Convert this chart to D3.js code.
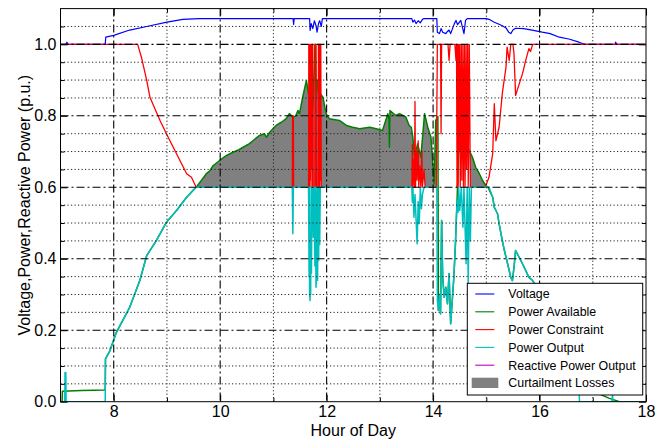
<!DOCTYPE html>
<html lang="en">
<head>
<meta charset="UTF-8">
<title>Voltage, Power and Curtailment by Hour of Day</title>
<script src="https://cdn.jsdelivr.net/npm/d3@7"></script>
<style>
  html, body { margin: 0; padding: 0; background: #fff; }
  svg { display: block; font-family: "Liberation Sans", Arial, sans-serif; }
</style>
</head>
<body>
<script>
// ----------------------------
// Data: [hour, p.u.]
// ----------------------------
const voltage = [[7.00,1.000],[7.10,1.000],[7.12,1.006],[7.14,1.000],[7.84,1.000],[7.85,1.020],[8.00,1.025],[8.30,1.040],[8.62,1.050],[9.00,1.062],[9.30,1.070],[9.60,1.072],[11.37,1.072],[11.38,1.056],[11.39,1.072],[11.68,1.072],[11.69,1.039],[11.71,1.058],[11.74,1.044],[11.77,1.066],[11.80,1.052],[11.82,1.034],[11.85,1.060],[11.87,1.066],[11.90,1.050],[11.92,1.072],[13.60,1.072],[13.62,1.062],[13.65,1.068],[13.68,1.058],[13.72,1.066],[13.76,1.060],[13.80,1.070],[13.83,1.072],[14.07,1.072],[14.08,1.034],[14.12,1.030],[14.15,1.044],[14.18,1.034],[14.24,1.030],[14.27,1.036],[14.30,1.040],[14.33,1.030],[14.40,1.058],[14.43,1.067],[14.46,1.055],[14.52,1.067],[14.58,1.030],[14.61,1.067],[14.64,1.072],[15.00,1.072],[15.05,1.070],[15.15,1.062],[15.24,1.056],[15.30,1.052],[15.37,1.046],[15.42,1.034],[15.46,1.030],[15.50,1.040],[15.55,1.045],[15.70,1.044],[15.86,1.040],[16.05,1.034],[16.20,1.030],[16.37,1.020],[16.55,1.015],[16.74,1.006],[16.85,1.000],[17.42,1.000],[17.43,1.006],[17.45,1.000],[18.00,1.000]];

const powerAvailable = [[7.00,0.000],[7.03,0.000],[7.035,0.029],[7.40,0.031],[7.84,0.033],[7.845,0.120],[7.93,0.143],[8.05,0.194],[8.30,0.264],[8.49,0.339],[8.62,0.409],[8.80,0.451],[8.99,0.502],[9.18,0.535],[9.37,0.572],[9.52,0.596],[9.55,0.600],[9.65,0.620],[9.74,0.638],[9.80,0.645],[9.87,0.661],[9.99,0.675],[10.12,0.689],[10.24,0.698],[10.35,0.705],[10.43,0.712],[10.55,0.722],[10.62,0.731],[10.74,0.745],[10.83,0.750],[10.87,0.740],[10.93,0.754],[11.05,0.773],[11.15,0.782],[11.24,0.792],[11.30,0.806],[11.37,0.796],[11.42,0.800],[11.46,0.815],[11.49,0.806],[11.55,0.852],[11.62,0.899],[11.65,0.870],[11.68,0.843],[11.71,0.880],[11.74,0.820],[11.77,0.950],[11.78,1.000],[11.79,1.000],[11.80,0.860],[11.83,0.900],[11.86,0.820],[11.89,0.860],[11.93,0.852],[11.99,0.806],[12.05,0.792],[12.24,0.787],[12.37,0.773],[12.49,0.768],[12.62,0.764],[12.81,0.768],[12.93,0.764],[13.05,0.759],[13.15,0.806],[13.17,0.790],[13.18,0.712],[13.19,0.815],[13.30,0.801],[13.37,0.806],[13.49,0.796],[13.55,0.773],[13.59,0.768],[13.62,0.740],[13.65,0.684],[13.71,0.722],[13.77,0.684],[13.84,0.806],[13.90,0.768],[13.96,0.740],[13.99,0.675],[14.02,0.610],[14.05,0.787],[14.09,0.798],[14.10,0.255],[14.12,0.300],[14.14,0.246],[14.16,0.507],[14.18,0.348],[14.21,0.292],[14.24,0.320],[14.27,0.274],[14.30,0.358],[14.33,0.218],[14.36,0.283],[14.39,0.348],[14.42,0.442],[14.45,0.563],[14.48,0.700],[14.52,0.768],[14.55,0.740],[14.62,0.722],[14.68,0.703],[14.74,0.684],[14.80,0.656],[14.87,0.638],[14.93,0.619],[14.99,0.605],[15.03,0.600],[15.12,0.572],[15.15,0.544],[15.18,0.535],[15.21,0.526],[15.24,0.498],[15.30,0.451],[15.34,0.423],[15.40,0.386],[15.46,0.348],[15.49,0.339],[15.52,0.376],[15.55,0.423],[15.68,0.386],[15.80,0.348],[15.87,0.339],[16.00,0.310],[16.20,0.240],[16.40,0.170],[16.60,0.100],[16.74,0.060],[17.00,0.030],[17.30,0.010],[17.50,0.000],[18.00,0.000]];

const powerConstraint = [[7.00,1.000],[8.45,1.000],[8.52,0.964],[8.62,0.899],[8.68,0.852],[8.87,0.787],[8.99,0.750],[9.18,0.694],[9.37,0.638],[9.46,0.628],[9.55,0.600],[11.355,0.600],[11.36,0.800],[11.375,0.800],[11.38,0.600],[11.66,0.600],[11.665,1.000],[11.675,0.600],[11.68,1.000],[11.69,0.620],[11.695,1.000],[11.705,0.600],[11.71,1.000],[11.72,0.650],[11.725,1.000],[11.735,0.600],[11.74,1.000],[11.745,0.600],[11.78,0.600],[11.785,1.000],[11.795,0.600],[11.80,1.000],[11.81,0.600],[11.84,0.600],[11.845,1.000],[11.855,0.600],[11.86,1.000],[11.87,0.600],[11.875,1.000],[11.885,0.620],[11.89,1.000],[11.90,0.600],[13.60,0.600],[13.61,0.720],[13.62,0.600],[13.64,0.680],[13.65,0.600],[13.66,0.840],[13.67,0.600],[13.69,0.700],[13.70,0.620],[13.72,0.730],[13.73,0.600],[13.75,0.660],[13.77,0.600],[13.79,0.700],[13.80,0.600],[13.83,0.650],[13.85,0.600],[14.06,0.600],[14.08,1.000],[14.14,1.000],[14.15,0.750],[14.16,1.000],[14.28,1.000],[14.30,0.955],[14.32,1.000],[14.41,1.000],[14.43,0.955],[14.44,1.000],[14.45,0.600],[14.46,1.000],[14.47,0.600],[14.48,1.000],[14.49,0.700],[14.50,1.000],[14.51,0.600],[14.53,1.000],[14.54,0.620],[14.56,1.000],[14.57,0.600],[14.59,1.000],[14.60,0.600],[14.62,1.000],[14.63,0.650],[14.65,1.000],[14.66,0.600],[14.68,1.000],[14.70,0.600],[14.98,0.600],[15.05,0.628],[15.12,0.694],[15.15,0.834],[15.18,0.730],[15.24,0.768],[15.30,0.862],[15.37,0.936],[15.39,0.992],[15.43,0.955],[15.46,1.000],[15.50,1.000],[15.52,0.974],[15.55,0.857],[15.62,0.890],[15.68,0.918],[15.74,0.955],[15.80,0.988],[15.83,0.980],[15.87,1.000],[18.00,1.000]];

const powerOutput = [[7.00,0.000],[7.08,0.000],[7.085,0.082],[7.10,0.082],[7.105,0.000],[7.84,0.000],[7.845,0.120],[7.93,0.143],[8.05,0.194],[8.30,0.264],[8.49,0.339],[8.62,0.409],[8.80,0.451],[8.99,0.502],[9.18,0.535],[9.37,0.572],[9.52,0.596],[9.55,0.600],[11.355,0.600],[11.365,0.470],[11.375,0.600],[11.66,0.600],[11.67,0.350],[11.675,0.600],[11.68,0.300],[11.69,0.283],[11.695,0.450],[11.70,0.300],[11.71,0.600],[11.715,0.360],[11.725,0.600],[11.74,0.600],[11.75,0.460],[11.76,0.600],[11.78,0.380],[11.79,0.600],[11.80,0.320],[11.81,0.350],[11.82,0.600],[11.83,0.340],[11.84,0.600],[11.85,0.395],[11.86,0.600],[11.87,0.440],[11.88,0.600],[13.60,0.600],[13.61,0.558],[13.62,0.600],[13.64,0.516],[13.66,0.580],[13.70,0.442],[13.72,0.560],[13.74,0.498],[13.76,0.600],[13.78,0.540],[13.80,0.580],[13.83,0.600],[14.07,0.600],[14.08,0.283],[14.10,0.255],[14.12,0.300],[14.14,0.246],[14.16,0.507],[14.18,0.348],[14.21,0.292],[14.24,0.320],[14.27,0.274],[14.30,0.358],[14.33,0.218],[14.36,0.283],[14.39,0.348],[14.42,0.442],[14.45,0.563],[14.47,0.530],[14.48,0.600],[14.50,0.535],[14.53,0.600],[14.56,0.488],[14.58,0.600],[14.62,0.386],[14.64,0.600],[14.66,0.330],[14.68,0.600],[14.70,0.450],[14.72,0.600],[15.05,0.600],[15.12,0.572],[15.15,0.544],[15.18,0.535],[15.21,0.526],[15.24,0.498],[15.30,0.451],[15.34,0.423],[15.40,0.386],[15.46,0.348],[15.49,0.339],[15.52,0.376],[15.55,0.423],[15.68,0.386],[15.80,0.348],[15.87,0.339],[16.00,0.310],[16.20,0.240],[16.40,0.170],[16.60,0.100],[16.74,0.060],[16.75,0.000],[17.36,0.000],[17.37,0.020],[17.38,0.000],[18.00,0.000]];

const reactivePower = [[7.00,1.000],[8.45,1.000],[8.46,null],[15.86,null],[15.87,1.000],[18.00,1.000]];

const xTicks = [8, 10, 12, 14, 16, 18];
const xMinor = [9, 11, 13, 15, 17];
const yTicks = [0.0, 0.2, 0.4, 0.6, 0.8, 1.0];
const yMinor = [0.05, 0.1, 0.15, 0.25, 0.3, 0.35, 0.45, 0.5, 0.55, 0.65, 0.7, 0.75, 0.85, 0.9, 0.95, 1.05];

const seriesNames = ["Voltage", "Power Available", "Power Constraint", "Power Output", "Reactive Power Output", "Curtailment Losses"];
const seriesColors = ["#0000ff", "#008000", "#ff0000", "#00bfbf", "#bf00bf", "#808080"];

// ----------------------------
// Layout
// ----------------------------
const width = 670, height = 440;
const margin = { top: 8.6, right: 24, bottom: 38.3, left: 60.5 };
const innerW = width - margin.left - margin.right;
const innerH = height - margin.top - margin.bottom;

const x = d3.scaleLinear().domain([7, 18]).range([0, innerW]);
const y = d3.scaleLinear().domain([0, 1.1]).range([innerH, 0]);

const svg = d3.select("body").append("svg")
  .attr("width", width)
  .attr("height", height);

svg.append("defs").append("clipPath").attr("id", "plot-clip")
  .append("rect").attr("width", innerW).attr("height", innerH);

const g = svg.append("g").attr("transform", `translate(${margin.left},${margin.top})`);
const plot = g.append("g").attr("clip-path", "url(#plot-clip)");

// ----------------------------
// Curtailment losses: available above the constraint
// ----------------------------
function valueAt(series, h) {
  const i = d3.bisector(d => d[0]).left(series, h);
  if (i <= 0) return series[0][1];
  if (i >= series.length) return series[series.length - 1][1];
  const a = series[i - 1], b = series[i];
  if (b[0] === a[0]) return b[1];
  return a[1] + (b[1] - a[1]) * (h - a[0]) / (b[0] - a[0]);
}
const fillHours = Array.from(new Set(powerAvailable.map(d => d[0]).concat(powerConstraint.map(d => d[0]))))
  .sort((a, b) => a - b);
const losses = fillHours.map(h => {
  const a = valueAt(powerAvailable, h);
  const c = valueAt(powerConstraint, h);
  return [h, Math.min(a, c), a];
});

plot.append("path")
  .datum(losses)
  .attr("fill", seriesColors[5])
  .attr("d", d3.area().x(d => x(d[0])).y0(d => y(d[1])).y1(d => y(d[2])));

// ----------------------------
// Lines
// ----------------------------
const line = d3.line()
  .defined(d => d[1] != null)
  .x(d => x(d[0]))
  .y(d => y(d[1]));

const lines = [
  { data: voltage, color: seriesColors[0], w: 1.2, op: 1 },
  { data: powerAvailable, color: seriesColors[1], w: 1.5, op: 1 },
  { data: powerConstraint, color: seriesColors[2], w: 1.3, op: 1 },
  { data: powerOutput, color: seriesColors[3], w: 1.5, op: 1 },
  { data: reactivePower, color: seriesColors[4], w: 1.2, op: 0.35 }
];
lines.forEach(s => {
  plot.append("path")
    .datum(s.data)
    .attr("fill", "none")
    .attr("stroke", s.color)
    .attr("stroke-width", s.w)
    .attr("stroke-opacity", s.op)
    .attr("stroke-linejoin", "round")
    .attr("d", line);
});

// ----------------------------
// Grid (drawn above data, classic style)
// ----------------------------
const grid = g.append("g");
grid.selectAll(".vmaj").data(xTicks.filter(d => d < 18)).join("line")
  .attr("x1", d => x(d)).attr("x2", d => x(d))
  .attr("y1", 0).attr("y2", innerH)
  .attr("stroke", "#000").attr("stroke-width", 1.1)
  .attr("stroke-dasharray", "8,3,2,3");
grid.selectAll(".vmin").data(xMinor).join("line")
  .attr("x1", d => x(d)).attr("x2", d => x(d))
  .attr("y1", 0).attr("y2", innerH)
  .attr("stroke", "#222").attr("stroke-width", 1)
  .attr("stroke-dasharray", "1.2,2.3");
grid.selectAll(".hmaj").data(yTicks.filter(d => d > 0)).join("line")
  .attr("x1", 0).attr("x2", innerW)
  .attr("y1", d => y(d)).attr("y2", d => y(d))
  .attr("stroke", "#000").attr("stroke-width", 1.1)
  .attr("stroke-dasharray", "8,3,2,3");
grid.selectAll(".hmin").data(yMinor).join("line")
  .attr("x1", 0).attr("x2", innerW)
  .attr("y1", d => y(d)).attr("y2", d => y(d))
  .attr("stroke", "#222").attr("stroke-width", 1)
  .attr("stroke-dasharray", "1.2,2.3");

// ----------------------------
// Axes with inward ticks on all four sides
// ----------------------------
function styleAxis(sel) {
  sel.select(".domain").remove();
  sel.selectAll("line").attr("stroke", "#000");
  sel.selectAll("text").attr("font-size", 16).attr("fill", "#000")
    .attr("font-family", "'Liberation Sans', Arial, sans-serif");
}

g.append("g").attr("transform", `translate(0,${innerH})`)
  .call(d3.axisBottom(x).tickValues(xTicks).tickSizeInner(-7).tickSizeOuter(0).tickPadding(3.5).tickFormat(d3.format("d")))
  .call(styleAxis);
g.append("g").attr("transform", `translate(0,${innerH})`)
  .call(d3.axisBottom(x).tickValues(xMinor).tickSizeInner(-4).tickSizeOuter(0).tickFormat(() => ""))
  .call(styleAxis);
g.append("g")
  .call(d3.axisTop(x).tickValues(xTicks).tickSizeInner(-7).tickSizeOuter(0).tickFormat(() => ""))
  .call(styleAxis);
g.append("g")
  .call(d3.axisTop(x).tickValues(xMinor).tickSizeInner(-4).tickSizeOuter(0).tickFormat(() => ""))
  .call(styleAxis);

g.append("g")
  .call(d3.axisLeft(y).tickValues(yTicks).tickSizeInner(-7).tickSizeOuter(0).tickPadding(4).tickFormat(d3.format(".1f")))
  .call(styleAxis);
g.append("g")
  .call(d3.axisLeft(y).tickValues(yMinor).tickSizeInner(-4).tickSizeOuter(0).tickFormat(() => ""))
  .call(styleAxis);
g.append("g").attr("transform", `translate(${innerW},0)`)
  .call(d3.axisRight(y).tickValues(yTicks).tickSizeInner(-7).tickSizeOuter(0).tickFormat(() => ""))
  .call(styleAxis);
g.append("g").attr("transform", `translate(${innerW},0)`)
  .call(d3.axisRight(y).tickValues(yMinor).tickSizeInner(-4).tickSizeOuter(0).tickFormat(() => ""))
  .call(styleAxis);

g.append("rect")
  .attr("width", innerW).attr("height", innerH)
  .attr("fill", "none").attr("stroke", "#000").attr("stroke-width", 1);

// axis titles
svg.append("text")
  .attr("x", margin.left + innerW / 2)
  .attr("y", 436)
  .attr("text-anchor", "middle")
  .attr("font-size", 16)
  .text("Hour of Day");

svg.append("text")
  .attr("transform", `translate(30,${margin.top + innerH / 2}) rotate(-90)`)
  .attr("text-anchor", "middle")
  .attr("font-size", 16)
  .text("Voltage,Power,Reactive Power (p.u.)");

// ----------------------------
// Legend
// ----------------------------
const legend = svg.append("g").attr("transform", "translate(467.3,283.3)");
legend.append("rect")
  .attr("width", 175.4).attr("height", 111.7)
  .attr("fill", "#fff").attr("stroke", "#000").attr("stroke-width", 1);

seriesNames.forEach((name, i) => {
  const cy = 10.7 + i * 17.8;
  if (i < 5) {
    legend.append("line")
      .attr("x1", 8).attr("x2", 27)
      .attr("y1", cy).attr("y2", cy)
      .attr("stroke", seriesColors[i]).attr("stroke-width", 1.1);
  } else {
    legend.append("rect")
      .attr("x", 4.4).attr("y", cy - 5.3)
      .attr("width", 26.6).attr("height", 10.3)
      .attr("fill", seriesColors[i]);
  }
  legend.append("text")
    .attr("x", 41).attr("y", cy)
    .attr("dy", "0.36em")
    .attr("font-size", 12.4)
    .text(name);
});
</script>
</body>
</html>
